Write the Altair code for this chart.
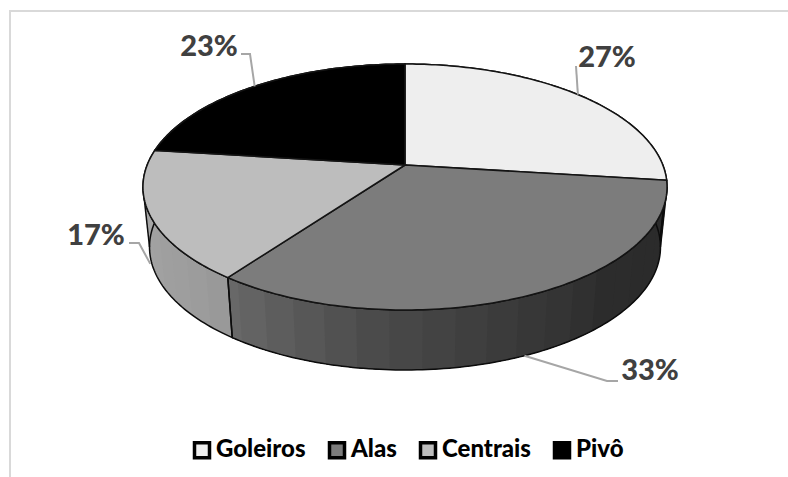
import numpy as np
import altair as alt

# Team composition by playing position
categories = ["Goleiros", "Alas", "Centrais", "Pivô"]
shares = [27, 33, 17, 23]
share_labels = ["27%", "33%", "17%", "23%"]

top_colors = ["#eeeeee", "#7c7c7c", "#bdbdbd", "#000000"]

# Perspective disc: hub position, radius, tilt terms and wall height
HUB_X, HUB_Y = 405.0, 165.0
RADIUS = 257.8
TILT_A, TILT_C = 89.5, -0.179
DEPTH = 60.0
FLOOR_SCALE = 0.975


def rim(pct, floor=False):
    """Screen position of a point on the disc rim, pct measured clockwise from 12 o'clock."""
    t = np.radians(np.asarray(pct, dtype=float) * 3.6)
    v = -np.cos(t)
    den = 1 + TILT_C * v
    dx = RADIUS * np.sin(t) / den
    y = (TILT_A * v + HUB_Y) / den
    if floor:
        return HUB_X + FLOOR_SCALE * dx, y + DEPTH
    return HUB_X + dx, y


def arc(a, b, floor=False):
    n = max(2, int(abs(b - a) * 3.6) + 1)
    xs, ys = rim(np.linspace(a, b, n), floor)
    return [[float(x), float(y)] for x, y in zip(xs, ys)]


def feature(kind, coords, **props):
    return {"type": "Feature", "geometry": {"type": kind, "coordinates": coords}, "properties": props}


def wall_gray(name, pct):
    # Side-wall shading: darker towards the right of the disc
    if name == "Alas":
        g = np.interp(pct, [27, 38, 47, 52, 60], [0x2a, 0x2c, 0x40, 0x4c, 0x68])
    elif name == "Centrais":
        g = np.interp(pct, [60, 64, 72, 77], [0x98, 0x9e, 0xa4, 0xa8])
    elif name == "Goleiros":
        g = 0x2a
    else:
        g = 0xa8
    g = int(round(g))
    return f"#{g:02x}{g:02x}{g:02x}"


edges = np.concatenate([[0], np.cumsum(shares)]).astype(float)
spans = list(zip(edges[:-1], edges[1:]))

top_slices, wall_strips, wall_edges = [], [], []
for name, (a, b) in zip(categories, spans):
    top_slices.append(feature("Polygon", [[[HUB_X, HUB_Y]] + arc(a, b) + [[HUB_X, HUB_Y]]], slice=name))
    ring = arc(a, b) + arc(b, a, floor=True)
    wall_edges.append(feature("Polygon", [ring + [ring[0]]], slice=name))
    # Each band reaches to the slice's end and the next one paints over it, so no seams show
    for s0 in np.arange(a, b, 1.7):
        quad = arc(s0, b) + arc(b, s0, floor=True)
        wall_strips.append(feature("Polygon", [quad + [quad[0]]], shade=wall_gray(name, s0 + 0.85)))

# Outer silhouette of the wall, where the rim is widest on screen
widest = np.degrees(np.arccos(TILT_C)) / 3.6
for pct in (widest, 100 - widest):
    wall_edges.append(feature("LineString", [list(map(float, rim(pct))), list(map(float, rim(pct, floor=True)))]))

# Leader lines run from the rim at each slice's midpoint to the label
elbows = {"Goleiros": [[576, 66]], "Alas": [[607, 381], [618, 381]], "Centrais": [[139, 243], [129, 243]], "Pivô": [[250, 54], [241, 54]]}
leaders, label_rows = [], []
label_pos = {"Goleiros": (607, 58), "Alas": (650, 371), "Centrais": (96, 236), "Pivô": (209, 47)}
for name, (a, b), text in zip(categories, spans, share_labels):
    mid = (a + b) / 2
    if name == "Alas":
        x, y = rim(mid, floor=True)
    elif name == "Centrais":
        x, y = rim(mid)
        y += DEPTH * 0.8
    else:
        x, y = rim(mid)
    leaders.append(feature("LineString", [[float(x), float(y)]] + elbows[name]))
    lx, ly = label_pos[name]
    label_rows.append({"text": text, "lon": lx, "lat": ly})

frame = [feature("LineString", [[10, 477], [10, 11], [788, 11]])]

screen = alt.Projection(type="identity", scale=1, translate=[0, 0])


def geo(features):
    return alt.Chart(alt.Data(values=features))


frame_layer = geo(frame).mark_geoshape(filled=False, stroke="#d9d9d9", strokeWidth=2)
strip_layer = geo(wall_strips).mark_geoshape(strokeWidth=0).encode(
    fill=alt.Fill("properties.shade:N", scale=None),
)
wall_layer = geo(wall_edges).mark_geoshape(filled=False, stroke="#0c0c0c", strokeWidth=1.5)
top_layer = geo(top_slices).mark_geoshape(stroke="#141414", strokeWidth=1.5).encode(
    fill=alt.Fill(
        "properties.slice:N",
        sort=categories,
        scale=alt.Scale(domain=categories, range=top_colors),
        legend=alt.Legend(
            title=None,
            orient="none",
            legendX=190,
            legendY=438,
            direction="horizontal",
            columns=4,
            symbolType="square",
            symbolSize=225,
            symbolStrokeColor="#000000",
            symbolStrokeWidth=3.5,
            symbolOpacity=1,
            labelFont="Lato",
            labelFontWeight=900,
            labelFontSize=24,
            labelColor="#000000",
            labelOffset=2,
            columnPadding=16,
            labelLimit=200,
        ),
    )
)
leader_layer = geo(leaders).mark_geoshape(filled=False, stroke="#a6a6a6", strokeWidth=2)
text_layer = alt.Chart(alt.Data(values=label_rows)).mark_text(
    font="Lato", fontWeight=900, fontSize=29, color="#404040", align="center", baseline="middle"
).encode(longitude="lon:Q", latitude="lat:Q", text="text:N")

chart = (
    alt.layer(frame_layer, strip_layer, wall_layer, top_layer, leader_layer, text_layer)
    .resolve_scale(fill="independent")
    .properties(width=788, height=477, padding=0, projection=screen, autosize=alt.AutoSizeParams(type="none"))
    .configure_view(stroke=None)
    .configure(background="#ffffff")
)

chart.save("out.html", embed_options={"renderer": "svg", "actions": False})
